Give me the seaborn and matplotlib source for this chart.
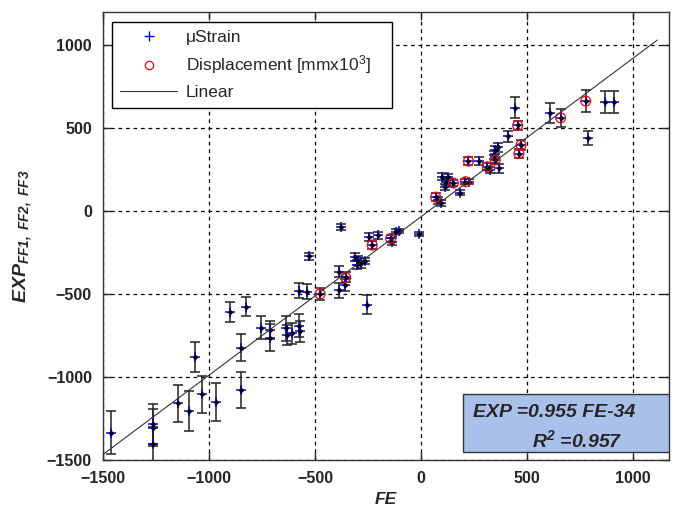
import numpy as np
import pandas as pd
import seaborn as sns
import matplotlib.pyplot as plt
from matplotlib.lines import Line2D
from matplotlib.patches import Rectangle

# ---- data ----
fe = [-1461, -1264, -1262, -1264, -1145, -1094, -1032, -968, -850, -1066,
      -901, -824, -850, -753, -714, -710, -638, -632, -610, -575, -570,
      -528, -575, -539, -476, -379, -387, -355, -360, -387, -255,
      -309, -295, -285, -300, -262, -245, -204, -230, -143, -135, -120, -104, -8,
      69, 80, 96, 100, 128, 112, 116, 153, 183, 210, 226, 224, 274,
      313, 325, 366, 344, 350, 348, 364, 410, 443, 456, 472, 462,
      607, 659, 777, 868, 910, 788]
exp = [-1336, -1285, -1305, -1404, -1159, -1205, -1104, -1151, -1078, -881,
       -610, -576, -823, -703, -763, -715, -707, -747, -737, -690, -725,
       -273, -480, -486, -500, -97, -365, -400, -444, -478, -565,
       -278, -298, -310, -322, -300, -155, -147, -205, -165, -185, -125, -120, -140,
       84, 65, 48, 207, 207, 146, 177, 169, 112, 177, 177, 301, 301,
       267, 247, 257, 340, 307, 370, 384, 450, 622, 516, 398, 347,
       592, 562, 663, 659, 659, 438]
err = [130, 120, 110, 100, 113, 122, 110, 114, 110, 90,
       60, 58, 82, 68, 80, 55, 75, 60, 65, 70, 65,
       20, 45, 45, 35, 18, 35, 30, 35, 43, 57,
       25, 25, 30, 25, 20, 25, 20, 22, 20, 20, 15, 15, 12,
       25, 20, 20, 20, 18, 20, 20, 20, 18, 15, 15, 25, 25,
       20, 20, 25, 25, 20, 25, 25, 35, 63, 25, 30, 30,
       62, 54, 64, 67, 67, 42]

# points that also carry a displacement measurement (red circles)
fe_disp = [-476, -355, -230, -143, 69, 153, 210, 224, 313, 350, 456, 472, 462, 659, 777]
exp_disp = [-500, -400, -205, -165, 84, 169, 177, 301, 267, 307, 516, 398, 347, 562, 663]

fit_slope = 0.955
fit_intercept = -34
fit_x = [-1500, 1115]

df = pd.DataFrame({'FE': fe, 'EXP': exp, 'err': err})
df_disp = pd.DataFrame({'FE': fe_disp, 'EXP': exp_disp})
df_fit = pd.DataFrame({'FE': fit_x})
df_fit['EXP'] = fit_slope * df_fit['FE'] + fit_intercept

# ---- style ----
sns.set_style('ticks')
plt.rcParams['font.family'] = ['Liberation Sans', 'DejaVu Sans']
plt.rcParams['mathtext.fontset'] = 'custom'
plt.rcParams['mathtext.rm'] = 'Liberation Sans'
plt.rcParams['mathtext.it'] = 'Liberation Sans:italic'
plt.rcParams['mathtext.bf'] = 'Liberation Sans:italic:bold'

fig = plt.figure(figsize=(6.83, 5.12), dpi=100)
ax = fig.add_axes([0.1508, 0.1016, 0.8287, 0.875])

ax.grid(True, color='black', linestyle=(0, (3, 3)), linewidth=0.9)
ax.set_axisbelow(True)

ax.errorbar(df['FE'], df['EXP'], yerr=df['err'], fmt='none',
            ecolor='#222222', elinewidth=1.1, capsize=3.5, capthick=1.1, zorder=2)
sns.scatterplot(data=df, x='FE', y='EXP', marker='+', s=45, color='blue',
                linewidth=1.1, ax=ax, zorder=3)
sns.scatterplot(data=df, x='FE', y='EXP', marker='D', s=9, color='black',
                linewidth=0, ax=ax, zorder=4)
sns.scatterplot(data=df_disp, x='FE', y='EXP', marker='o', s=50, fc='none',
                ec='red', linewidth=0.9, ax=ax, zorder=5)
sns.lineplot(data=df_fit, x='FE', y='EXP', color='#333333', linewidth=0.8,
             ax=ax, zorder=6)

ax.set_xlim(-1500, 1170)
ax.set_ylim(-1500, 1200)
ax.set_xticks([-1500, -1000, -500, 0, 500, 1000])
ax.set_yticks([-1500, -1000, -500, 0, 500, 1000])
ax.tick_params(direction='in', length=6, width=1, top=True, right=True,
               labelsize=11.5, pad=8)
for lab in ax.get_xticklabels() + ax.get_yticklabels():
    lab.set_fontweight('bold')
for sp in ax.spines.values():
    sp.set_color('#333333')
    sp.set_linewidth(1)

ax.set_xlabel('FE', fontsize=12.5, fontweight='bold', style='italic', labelpad=4)
ax.set_ylabel(r'$\mathbf{EXP}_{\mathbf{FF1,\ FF2,\ FF3}}$', fontsize=14, labelpad=9)

# legend
handles = [
    Line2D([], [], linestyle='none', marker='+', color='blue', markersize=7, markeredgewidth=1),
    Line2D([], [], linestyle='none', marker='o', mfc='none', mec='red', markersize=6, markeredgewidth=0.9),
    Line2D([], [], color='#333333', linewidth=0.8),
]
labels = ['\u03bcStrain', 'Displacement [mmx10$^{3}$]', 'Linear']
leg = ax.legend(handles, labels, loc='upper left', bbox_to_anchor=(0.016, 0.0, 0.495, 0.978),
                mode='expand', borderaxespad=0, fancybox=False, edgecolor='black',
                framealpha=1, fontsize=12.5, handlelength=3.3, labelspacing=0.5,
                borderpad=0.45, handletextpad=0.5)
leg.get_frame().set_linewidth(1)
leg.set_zorder(10)

# fit annotation box
ax.add_patch(Rectangle((0.636, 0.018), 0.364, 0.129, transform=ax.transAxes,
                       facecolor='#a9c1ea', edgecolor='#333333', linewidth=1, zorder=9))
ax.text(0.654, 0.105, 'EXP =0.955 FE-34', transform=ax.transAxes, fontsize=14,
        fontweight='bold', style='italic', va='center', ha='left', zorder=10)
ax.text(0.758, 0.045, r'$\mathbf{R^2}$ =0.957', transform=ax.transAxes, fontsize=14,
        fontweight='bold', style='italic', va='center', ha='left', zorder=10)

plt.savefig('out.png', dpi=100)
plt.close()
